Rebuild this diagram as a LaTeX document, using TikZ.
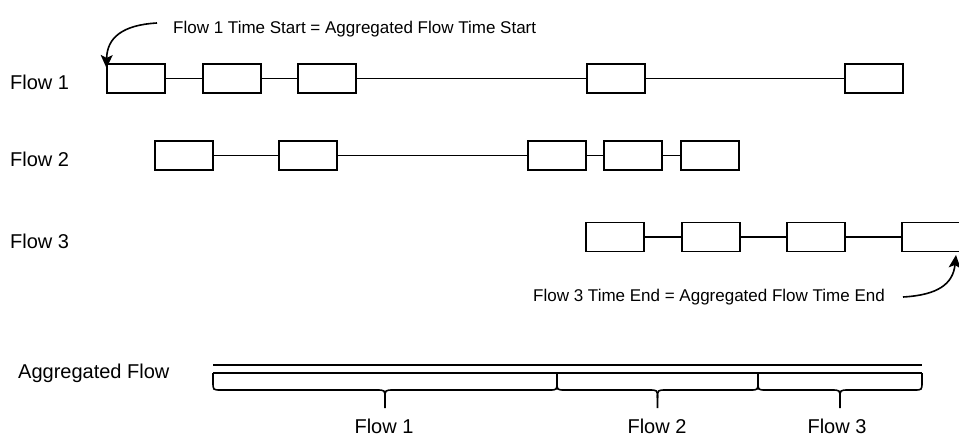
\documentclass[tikz,border=0pt]{standalone}
\usepackage{fontspec}
\setmainfont{Liberation Sans}
\usetikzlibrary{arrows.meta}

% one horizontal brace under the aggregated flow, from #1 to #2, tip at #3
\newcommand\flowbrace[3]{%
  \draw[line] (#1,373) -- (#1,382) .. controls (#1,390) .. ({#1+8},390)
    -- ({#3-9},390) .. controls (#3,390) .. (#3,398) -- (#3,408);
  \draw[line] (#2,373) -- (#2,382) .. controls (#2,390) .. ({#2-8},390)
    -- ({#3+9},390) .. controls (#3,390) .. (#3,398);
}

\begin{document}
\begin{tikzpicture}[x=1pt,y=-1pt,
  line/.style={line width=1.6pt,black},
  packet/.style={draw,line width=1.6pt,fill=white,minimum width=58pt,minimum height=29pt,
    inner sep=0pt,outer sep=0pt,anchor=north west},
  rowlabel/.style={font=\fontsize{20}{24}\selectfont,inner sep=0pt},
  note/.style={font=\fontsize{17}{20}\selectfont,inner sep=0pt,anchor=base west},
  callout/.style={line width=1.6pt,-{Stealth[length=13pt,width=12pt,inset=3pt]}}]
\useasboundingbox (0,0) rectangle (959,441);

% row labels
\node[rowlabel,anchor=base west] (l1) at (10,90) {Flow 1};
\node[rowlabel,anchor=base west] (l2) at (10,167) {Flow 2};
\node[rowlabel,anchor=base west] (l3) at (10,248) {Flow 3};
\node[rowlabel,anchor=base west] (la) at (18,378) {Aggregated Flow};

% flow 1 packets
\node[packet] (a1) at (107,64) {};
\node[packet] (a2) at (203,64) {};
\node[packet] (a3) at (298,64) {};
\node[packet] (a4) at (587,64) {};
\node[packet] (a5) at (845,64) {};
\draw[line] (a1.east) -- (a2.west) (a2.east) -- (a3.west)
  (a3.east) -- (a4.west) (a4.east) -- (a5.west);

% flow 2 packets
\node[packet] (b1) at (155,141) {};
\node[packet] (b2) at (279,141) {};
\node[packet] (b3) at (528,141) {};
\node[packet] (b4) at (604,141) {};
\node[packet] (b5) at (681,141) {};
\draw[line] (b1.east) -- (b2.west) (b2.east) -- (b3.west)
  (b3.east) -- (b4.west) (b4.east) -- (b5.west);

% flow 3 packets
\node[packet] (c1) at (586,222.5) {};
\node[packet] (c2) at (682,222.5) {};
\node[packet] (c3) at (787,222.5) {};
\node[packet] (c4) at (902,222.5) {};
\draw[line] (c1.east) -- (c2.west) (c2.east) -- (c3.west) (c3.east) -- (c4.west);

% start / end notes with their pointers
\node[note] (ts) at (173,34) {Flow 1 Time Start = Aggregated Flow Time Start};
\node[note] (te) at (533,301) {Flow 3 Time End = Aggregated Flow Time End};
\coordinate (tsfrom) at (157,23);
\coordinate (tefrom) at (903,297);
\draw[callout] (tsfrom) .. controls (122,25) and (107,38) .. ([xshift=-0.5pt,yshift=-4pt]a1.north west);
\draw[callout] (tefrom) .. controls (938,295) and (953,284) .. (956,255);

% aggregated flow
\coordinate (ag1) at (213,365);
\coordinate (ag2) at (922,365);
\coordinate (ag3) at (213,373);
\coordinate (ag4) at (922,373);
\draw[line] (ag1) -- (ag2);
\draw[line] (ag3) -- (ag4);
\flowbrace{213}{557}{385}
\flowbrace{557}{758}{657.5}
\flowbrace{758}{922}{840}

\node[rowlabel,anchor=base] (f1) at (384,433) {Flow 1};
\node[rowlabel,anchor=base] (f2) at (657,433) {Flow 2};
\node[rowlabel,anchor=base] (f3) at (837,433) {Flow 3};
\end{tikzpicture}
\end{document}
